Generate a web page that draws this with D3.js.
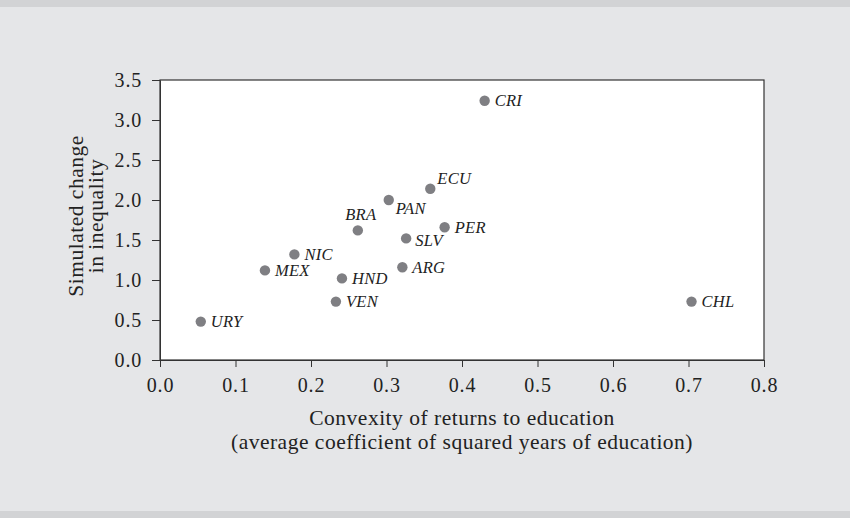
<!DOCTYPE html>
<html>
<head>
<meta charset="utf-8">
<script src="https://cdn.jsdelivr.net/npm/d3@7"></script>
<style>
  html, body { margin: 0; padding: 0; background: #e5e6e8; }
  svg { display: block; }
  .tick text { font-family: "Liberation Serif", serif; font-size: 20px; letter-spacing: 0.8px; fill: #222; }
  .tick line { stroke: #333; }
  .domain { stroke: #333; }
  .country { font-family: "Liberation Serif", serif; font-style: italic; font-size: 16.5px; letter-spacing: 0.3px; fill: #222; }
  .axis-title { font-family: "Liberation Serif", serif; font-size: 21.5px; letter-spacing: 0.5px; fill: #222; }
</style>
</head>
<body>
<svg></svg>
<script>
// chart data
const countries = ['URY', 'MEX', 'NIC', 'HND', 'VEN', 'BRA', 'PAN', 'SLV', 'ARG', 'ECU', 'PER', 'CRI', 'CHL'];
const convexity = [0.054, 0.139, 0.178, 0.241, 0.233, 0.262, 0.303, 0.326, 0.321, 0.358, 0.377, 0.430, 0.704];
const inequalityChange = [0.48, 1.12, 1.32, 1.02, 0.73, 1.62, 2.00, 1.52, 1.16, 2.14, 1.66, 3.24, 0.73];
const xTicks = [0, 0.1, 0.2, 0.3, 0.4, 0.5, 0.6, 0.7, 0.8];
const yTicks = [0, 0.5, 1, 1.5, 2, 2.5, 3, 3.5];
const xTitleLines = ['Convexity of returns to education', '(average coefficient of squared years of education)'];
const yTitleLines = ['Simulated change', 'in inequality'];

const width = 850;
const height = 518;
const plot = { left: 160, right: 764, top: 80, bottom: 360 };

// where each label sits relative to its dot (default: to the right)
const labelSpot = {
  BRA: { dx: 3, dy: -10, anchor: 'middle' },
  PAN: { dx: 7, dy: 14, anchor: 'start' },
  ECU: { dx: 7, dy: -5, anchor: 'start' },
  SLV: { dx: 9, dy: 8, anchor: 'start' }
};
const defaultSpot = { dx: 10, dy: 5.5, anchor: 'start' };

const svg = d3.select('svg')
  .attr('width', width)
  .attr('height', height);

// page frame bands
svg.append('rect').attr('x', 0).attr('y', 0).attr('width', width).attr('height', 7).attr('fill', '#d2d3d5');
svg.append('rect').attr('x', 0).attr('y', 511).attr('width', width).attr('height', 7).attr('fill', '#d2d3d5');

const x = d3.scaleLinear().domain([0, 0.8]).range([plot.left, plot.right]);
const y = d3.scaleLinear().domain([0, 3.5]).range([plot.bottom, plot.top]);

// plot background with frame
svg.append('rect')
  .attr('x', plot.left)
  .attr('y', plot.top)
  .attr('width', plot.right - plot.left)
  .attr('height', plot.bottom - plot.top)
  .attr('fill', '#fff')
  .attr('stroke', '#333')
  .attr('stroke-width', 1.2);

svg.append('g')
  .attr('transform', `translate(0,${plot.bottom})`)
  .call(d3.axisBottom(x).tickValues(xTicks).tickFormat(d3.format('.1f')).tickSize(7).tickSizeOuter(0).tickPadding(11));

svg.append('g')
  .attr('transform', `translate(${plot.left},0)`)
  .call(d3.axisLeft(y).tickValues(yTicks).tickFormat(d3.format('.1f')).tickSize(8).tickSizeOuter(0).tickPadding(10));

// axis titles
svg.append('text')
  .attr('class', 'axis-title')
  .attr('text-anchor', 'middle')
  .selectAll('tspan')
  .data(xTitleLines)
  .enter()
  .append('tspan')
  .attr('x', (plot.left + plot.right) / 2)
  .attr('y', (d, i) => 425 + i * 24)
  .text(d => d);

svg.append('g')
  .attr('transform', 'translate(0,216) rotate(-90)')
  .append('text')
  .attr('class', 'axis-title')
  .attr('text-anchor', 'middle')
  .selectAll('tspan')
  .data(yTitleLines)
  .enter()
  .append('tspan')
  .attr('x', 0)
  .attr('y', (d, i) => 83 + i * 19.5)
  .text(d => d);

// dots and country labels
const points = countries.map((c, i) => ({ name: c, cx: convexity[i], cy: inequalityChange[i] }));

svg.append('g')
  .selectAll('circle')
  .data(points)
  .enter()
  .append('circle')
  .attr('cx', d => x(d.cx))
  .attr('cy', d => y(d.cy))
  .attr('r', 5.2)
  .attr('fill', '#7f7f83');

svg.append('g')
  .selectAll('text')
  .data(points)
  .enter()
  .append('text')
  .attr('class', 'country')
  .attr('x', d => x(d.cx) + (labelSpot[d.name] || defaultSpot).dx)
  .attr('y', d => y(d.cy) + (labelSpot[d.name] || defaultSpot).dy)
  .attr('text-anchor', d => (labelSpot[d.name] || defaultSpot).anchor)
  .text(d => d.name);
</script>
</body>
</html>
